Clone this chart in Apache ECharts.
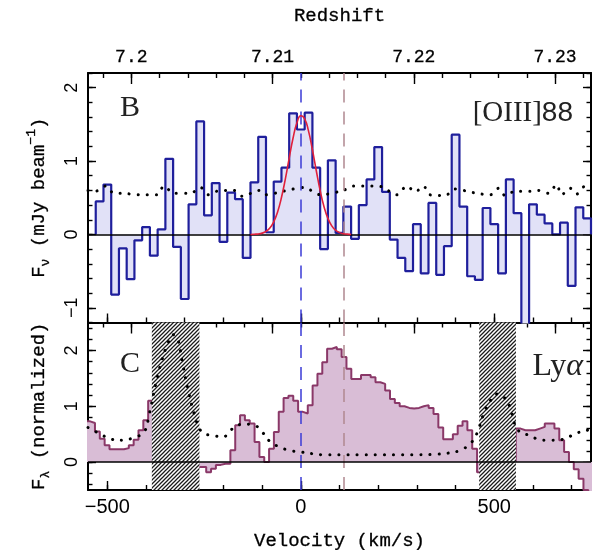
<!DOCTYPE html>
<html>
<head>
<meta charset="utf-8">
<script src="https://cdn.jsdelivr.net/npm/echarts@6/dist/echarts.min.js"></script>
<style>
  html, body { margin: 0; padding: 0; background: #fff; }
  #chart { width: 594px; height: 550px; }
</style>
</head>
<body>
<div id="chart"></div>
<script>
// ---------------- data ----------------
// [OIII]88 spectrum: 20 km/s channels, first channel centred at -520 km/s
const oiiiStart = -520;
const oiiiWidth = 20;
const oiiiFlux = [
  0.45, 0.68, -0.82, -0.19, -0.61, -0.08, 0.10, -0.29, 0.07, 1.03,
  -0.17, -0.88, 0.41, 1.54, 0.26, 0.70, -0.10, 0.57, 0.48, -0.32,
  0.71, 1.33, 0.03, 0.72, 0.91, 1.65, 1.43, 1.66, 0.91, -0.20,
  1.01, 0.02, 0.38, -0.06, 0.40, 0.75, 1.19, 0.58, -0.07, -0.32,
  -0.50, 0.14, -0.53, 0.43, -0.55, -0.16, 1.36, 0.38, -0.57, -0.62,
  0.36, 0.14, -0.53, 0.75, 0.29, -1.50, 0.41, 0.27, 0.15, 0.00,
  0.16, -0.70, 0.37, 0.22
];
// [OIII]88 noise level (dotted)
const oiiiNoiseVel = [
  -550, -530, -504, -483, -461, -418, -371, -354, -328, -285, -259, -238, -216,
  -173, -151, -108, -91, -44, 8, 51, 110, 136, 162, 188, 209, 248, 274, 296,
  317, 334, 373, 399, 429, 455, 490, 511, 528, 554, 593, 614, 640, 661, 674,
  696, 713, 735, 750
];
const oiiiNoise = [
  0.60, 0.59, 0.66, 0.56, 0.56, 0.54, 0.54, 0.66, 0.56, 0.56, 0.64, 0.54, 0.59,
  0.60, 0.52, 0.60, 0.54, 0.59, 0.64, 0.54, 0.60, 0.66, 0.66, 0.66, 0.65, 0.54, 0.66, 0.58,
  0.66, 0.54, 0.53, 0.62, 0.59, 0.56, 0.54, 0.63, 0.53, 0.59, 0.59, 0.60, 0.56, 0.68, 0.54,
  0.63, 0.55, 0.66, 0.62
];
// Gaussian line fit (red)
const fitVel = [
  -130, -120, -110, -100, -90, -80, -70, -60, -50, -40, -30, -20, -10, 0,
  10, 20, 30, 40, 50, 60, 70, 80, 90, 100, 110, 120, 130
];
const fitFlux = [
  0.00, 0.003, 0.007, 0.018, 0.042, 0.088, 0.172, 0.307, 0.503, 0.755, 1.04, 1.314, 1.522, 1.617,
  1.576, 1.408, 1.154, 0.868, 0.598, 0.378, 0.219, 0.117, 0.057, 0.025, 0.010, 0.004, 0.001
];

// Lyα spectrum: 12.5 km/s pixels, first pixel left edge at -557 km/s; null = masked
const lyaEdge = -557;
const lyaWidth = 12.5;
const lyaFlux = [
  0.73, 0.70, 0.55, 0.42, 0.30, 0.23, 0.23, 0.23, 0.25, 0.30,
  0.40, 0.57, 0.75, 1.10, null, null, null, null, null, null,
  null, null, null, -0.09, -0.09, -0.18, -0.12, -0.05, -0.03, -0.03,
  0.21, 0.66, 0.84, 0.75, 0.69, 0.36, 0.09, 0.00, 0.24, 0.54,
  0.90, 1.15, 1.19, 1.10, 0.90, 0.87, 1.02, 1.37, 1.58, 1.79,
  2.03, 2.06, 2.02, 1.88, 1.67, 1.49, 1.49, 1.56, 1.56, 1.52,
  1.43, 1.40, 1.28, 1.13, 1.06, 1.00, 0.97, 0.96, 0.97, 1.00,
  1.02, 0.97, 0.86, 0.62, 0.41, 0.41, 0.50, 0.65, 0.73, 0.57,
  0.24, -0.18, null, null, null, null, null, null, null, 0.60,
  0.57, 0.57, 0.57, 0.60, 0.63, 0.69, 0.69, 0.60, 0.39, 0.18,
  0.00, -0.13, -0.30, -0.50, -0.55
];
// Lyα noise / sky level (dotted)
const lyaNoiseVel = [
  -550, -520, -490, -460, -435, -405, -392, -375, -360, -345, -330, -318, -305,
  -290, -275, -262, -250, -230, -200, -182, -150, -120, -100, -80, -55, -30, 0,
  30, 60, 100, 150, 200, 250, 300, 350, 380, 412, 438, 455, 472, 490, 507, 524,
  541, 554, 570, 593, 615, 645, 671, 690, 709, 740, 750
];
const lyaNoise = [
  0.62, 0.51, 0.41, 0.39, 0.43, 0.54, 0.85, 1.40, 1.80, 2.10, 2.28, 2.20, 1.75,
  1.25, 0.85, 0.60, 0.51, 0.48, 0.45, 0.57, 0.68, 0.66, 0.54, 0.37, 0.27, 0.21, 0.18,
  0.15, 0.13, 0.13, 0.13, 0.13, 0.13, 0.13, 0.14, 0.16, 0.21, 0.33, 0.51, 0.85, 1.10, 1.22, 1.17,
  0.98, 0.66, 0.52, 0.48, 0.40, 0.39, 0.40, 0.44, 0.51, 0.57, 0.58
];
// masked velocity windows (hatched)
const maskedRanges = [[-385, -262], [461, 556]];

// reference velocities (dashed verticals)
const systemicVel = 0;
const lyaPeakVel = 110;

// axes
const velRange = [-550, 750];
const velLabelTicks = [-500, 0, 500];
const zLabelTicks = [7.2, 7.21, 7.22, 7.23];
const zSys = 7.212;
const oiiiRange = [-1.2, 2.2];
const oiiiLabelTicks = [-1, 0, 1, 2];
const lyaRange = [-0.5, 2.5];
const lyaLabelTicks = [0, 1, 2];

// ---------------- helpers ----------------
const C_KMS = 299792.458;
const velToZ = v => zSys + v * (1 + zSys) / C_KMS;
const zRange = [velToZ(velRange[0]), velToZ(velRange[1])];

function stepRange(lo, hi, step) {
  const out = [];
  for (let k = Math.ceil(lo / step - 1e-9); k <= Math.floor(hi / step + 1e-9); k++) {
    out.push(+(k * step).toFixed(4));
  }
  return out;
}
const velMinor = stepRange(velRange[0], velRange[1], 100);
const zMinor = stepRange(zRange[0], zRange[1], 0.002);
const oiiiMinor = stepRange(oiiiRange[0], oiiiRange[1], 0.2);
const lyaMinor = stepRange(lyaRange[0], lyaRange[1], 0.2);

// histogram outline: each channel spans [edge, edge + width]
function stepPoints(firstEdge, width, values) {
  const pts = [];
  let prev = null;
  values.forEach((v, i) => {
    const left = firstEdge + i * width;
    if (v === null) {
      if (prev !== null) { pts.push([left, prev]); pts.push([left, '-']); }
      prev = null;
      return;
    }
    if (prev === null) pts.push([left, 0]);
    pts.push([left, v]);
    prev = v;
  });
  if (prev !== null) {
    const right = firstEdge + values.length * width;
    pts.push([right, prev]);
    pts.push([right, 0]);
  }
  return pts;
}
const zip = (xs, ys) => xs.map((x, i) => [x, ys[i]]);
const minus = s => String(s).replace('-', '\u2212');

// hatch pattern for masked windows
const hatch = document.createElement('canvas');
hatch.width = 4; hatch.height = 4;
(function () {
  const g = hatch.getContext('2d');
  g.fillStyle = '#ffffff';
  g.fillRect(0, 0, 4, 4);
  g.strokeStyle = '#1a1a1a';
  g.lineWidth = 1.25;
  g.beginPath();
  g.moveTo(-1, 5); g.lineTo(5, -1);
  g.moveTo(-1, 1); g.lineTo(1, -1);
  g.moveTo(3, 5); g.lineTo(5, 3);
  g.stroke();
})();

const AX = '#000';
const INK = '#000';
const mono = '"Liberation Mono", "Courier New", monospace';
const sans = '"Liberation Sans", Arial, sans-serif';
const serif = '"Liberation Serif", serif';
// slightly heavier strokes for the monospaced axis text
const heavy = { textBorderColor: INK, textBorderWidth: 0.3 };

function axis(grid, pos, range, ticks, len, extra) {
  const base = {
    gridIndex: grid, type: 'value', position: pos, min: range[0], max: range[1],
    axisLine: { show: false, onZero: false },
    axisTick: { show: true, inside: true, length: len, customValues: ticks,
                lineStyle: { color: AX, width: 1.4 } },
    axisLabel: { show: false },
    splitLine: { show: false },
    silent: true
  };
  return Object.assign(base, extra || {});
}
const frame = { show: true, onZero: false, lineStyle: { color: AX, width: 2 } };
const titleStyle = Object.assign({ fontFamily: mono, fontSize: 19, color: INK }, heavy);

const xAxes = [
  // top panel
  axis(0, 'bottom', velRange, velLabelTicks, 9, { axisLine: frame }),
  axis(0, 'bottom', velRange, velMinor, 5),
  axis(0, 'top', zRange, zLabelTicks, 11, {
    axisLine: frame,
    axisLabel: Object.assign({ show: true, customValues: zLabelTicks, margin: 7,
                 fontFamily: mono, fontSize: 18, color: INK,
                 formatter: v => String(+v.toFixed(3)) }, heavy),
    name: 'Redshift', nameLocation: 'middle', nameGap: 48,
    nameTextStyle: titleStyle
  }),
  axis(0, 'top', zRange, zMinor, 5),
  // bottom panel
  axis(1, 'bottom', velRange, velLabelTicks, 9, {
    axisLine: frame,
    axisLabel: { show: true, customValues: velLabelTicks, margin: 7,
                 fontFamily: sans, fontSize: 20, color: INK, formatter: v => minus(v) },
    name: 'Velocity (km/s)', nameLocation: 'middle', nameGap: 41,
    nameTextStyle: titleStyle
  }),
  axis(1, 'bottom', velRange, velMinor, 5),
  axis(1, 'top', zRange, zLabelTicks, 11, { axisLine: frame }),
  axis(1, 'top', zRange, zMinor, 5)
];

const nameRich = {
  a: Object.assign({ fontFamily: mono, fontSize: 19, color: INK, lineHeight: 28, verticalAlign: 'middle' }, heavy),
  sub: Object.assign({ fontFamily: mono, fontSize: 13, color: INK, lineHeight: 28, verticalAlign: 'bottom', padding: [0, 0, 1, 0] }, heavy),
  sup: Object.assign({ fontFamily: mono, fontSize: 13, color: INK, lineHeight: 28, verticalAlign: 'top' }, heavy)
};
const yLabel = { show: true, rotate: 90, margin: 7, fontFamily: sans, fontSize: 18, color: INK,
                 formatter: v => minus(v) };

const yAxes = [
  axis(0, 'left', oiiiRange, oiiiLabelTicks, 8, {
    axisLine: frame,
    axisLabel: Object.assign({ customValues: oiiiLabelTicks }, yLabel),
    name: '{a|F}{sub|\u03bd}{a| (mJy beam}{sup|\u22121}{a|)}',
    nameLocation: 'middle', nameRotate: 90, nameGap: 35,
    nameTextStyle: { rich: nameRich }
  }),
  axis(0, 'left', oiiiRange, oiiiMinor, 4.5),
  axis(0, 'right', oiiiRange, oiiiLabelTicks, 8, { axisLine: frame }),
  axis(0, 'right', oiiiRange, oiiiMinor, 4.5),
  axis(1, 'left', lyaRange, lyaLabelTicks, 8, {
    axisLine: frame,
    axisLabel: Object.assign({ customValues: lyaLabelTicks }, yLabel),
    name: '{a|F}{sub|\u03bb}{a| (normalized)}',
    nameLocation: 'middle', nameRotate: 90, nameGap: 35,
    nameTextStyle: { rich: nameRich }
  }),
  axis(1, 'left', lyaRange, lyaMinor, 4.5),
  axis(1, 'right', lyaRange, lyaLabelTicks, 8, { axisLine: frame }),
  axis(1, 'right', lyaRange, lyaMinor, 4.5)
];

function refLines(xi, yi) {
  return {
    type: 'line', xAxisIndex: xi, yAxisIndex: yi, data: [], z: 6, silent: true,
    markLine: {
      silent: true, symbol: ['none', 'none'], label: { show: false }, animation: false,
      data: [
        { xAxis: systemicVel, lineStyle: { color: '#3b3bd6', width: 1.5, type: [13, 9] } },
        { xAxis: lyaPeakVel, lineStyle: { color: '#b08890', width: 1.5, type: [13, 9] } },
        { yAxis: 0, lineStyle: { color: '#000', width: 1.6, type: 'solid' } }
      ]
    }
  };
}

const series = [
  // [OIII]88 channels
  {
    type: 'line', xAxisIndex: 0, yAxisIndex: 0, step: 'end', symbol: 'none', z: 2,
    data: stepPoints(oiiiStart - oiiiWidth / 2, oiiiWidth, oiiiFlux),
    lineStyle: { color: '#1f1f9c', width: 2.2 },
    areaStyle: { color: '#e1e1f7', opacity: 1, origin: 0 }
  },
  {
    type: 'line', xAxisIndex: 0, yAxisIndex: 0, symbol: 'none', smooth: 0.3, z: 4,
    data: zip(oiiiNoiseVel, oiiiNoise),
    lineStyle: { color: '#000', width: 3, type: [0.1, 9], cap: 'round' }
  },
  {
    type: 'line', xAxisIndex: 0, yAxisIndex: 0, symbol: 'none', smooth: true, z: 5,
    data: zip(fitVel, fitFlux),
    lineStyle: { color: '#e0203c', width: 1.6 }
  },
  refLines(0, 0),
  // Lyα spectrum
  {
    type: 'line', xAxisIndex: 4, yAxisIndex: 4, step: 'end', symbol: 'none', z: 2,
    data: stepPoints(lyaEdge, lyaWidth, lyaFlux),
    lineStyle: { color: '#8a3868', width: 2 },
    areaStyle: { color: '#d9bdd6', opacity: 1, origin: 0 }
  },
  {
    type: 'custom', xAxisIndex: 4, yAxisIndex: 4, z: 3, silent: true,
    data: maskedRanges,
    renderItem: (params, api) => {
      const a = api.coord([api.value(0), lyaRange[1]]);
      const b = api.coord([api.value(1), lyaRange[0]]);
      return {
        type: 'rect',
        shape: { x: a[0], y: a[1], width: b[0] - a[0], height: b[1] - a[1] },
        style: { fill: { image: hatch, repeat: 'repeat' } }
      };
    }
  },
  {
    type: 'line', xAxisIndex: 4, yAxisIndex: 4, symbol: 'none', smooth: 0.4, z: 4,
    data: zip(lyaNoiseVel, lyaNoise),
    lineStyle: { color: '#000', width: 3, type: [0.1, 9], cap: 'round' }
  },
  refLines(4, 4)
];

const option = {
  animation: false,
  backgroundColor: '#fff',
  grid: [
    { left: 88, right: 3, top: 73, height: 249.5, containLabel: false, outerBoundsMode: 'none' },
    { left: 88, right: 3, top: 322.5, height: 167.5, containLabel: false, outerBoundsMode: 'none' }
  ],
  xAxis: xAxes,
  yAxis: yAxes,
  series: series,
  graphic: [
    { type: 'text', x: 120, y: 108, silent: true,
      style: { text: 'B', font: '30px "Liberation Serif", serif', fill: '#222', verticalAlign: 'middle' } },
    { type: 'text', x: 573, y: 113, silent: true,
      style: { text: '{s|[OIII]}{n|88}', align: 'right', verticalAlign: 'middle',
               rich: { s: { fontFamily: serif, fontSize: 29, fill: '#222' },
                       n: { fontFamily: sans, fontSize: 28, fill: '#222' } } } },
    { type: 'text', x: 120, y: 364, silent: true,
      style: { text: 'C', font: '30px "Liberation Serif", serif', fill: '#222', verticalAlign: 'middle' } },
    { type: 'text', x: 583, y: 367, silent: true,
      style: { text: '{s|Ly}{g|\u03b1}', align: 'right', verticalAlign: 'middle',
               rich: { s: { fontFamily: serif, fontSize: 32, fill: '#222' },
                       g: { fontFamily: serif, fontStyle: 'italic', fontSize: 32, fill: '#222' } } } }
  ]
};

const chart = echarts.init(document.getElementById('chart'), null, { renderer: 'canvas', width: 594, height: 550 });
chart.setOption(option);
</script>
</body>
</html>
